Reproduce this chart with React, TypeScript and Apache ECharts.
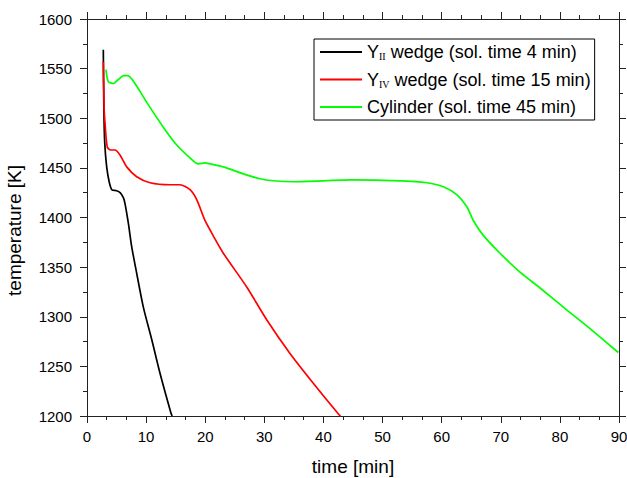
import React, { useEffect, useRef } from "react";
import * as echarts from "echarts";

const FONT = "Arial, 'Liberation Sans', sans-serif";

const seriesNames = [
  "YII wedge (sol. time 4 min)",
  "YIV wedge (sol. time 15 min)",
  "Cylinder (sol. time 45 min)",
];
const seriesColors = ["#000000", "#ff0000", "#00ff00"];

const blackTime = [2.76, 2.85, 3.0, 3.33, 3.75, 4.2, 5.0, 5.6, 6.15, 6.43, 7.0, 7.55, 8.4, 9.52, 10.95, 12.35, 14.2, 14.4];
const blackTemp = [1569, 1510, 1475, 1451, 1436, 1428, 1427, 1425, 1420, 1414, 1394, 1371, 1344, 1310, 1277, 1243, 1203, 1200];

const redTime = [2.76, 2.9, 3.05, 3.43, 4.0, 4.74, 5.58, 6.72, 8.41, 10.66, 14.04, 15.73, 17.43, 18.56, 19.96, 21.5, 23.06, 27.02, 30.4, 34.34, 38.28, 42.68, 42.9];
const redTemp = [1557, 1510, 1495, 1471, 1468, 1468, 1463, 1451, 1441, 1435, 1433, 1433, 1428, 1418, 1397, 1380, 1364, 1330, 1297, 1263, 1233, 1201, 1200];

const greenTime = [3.21, 3.6, 4.45, 5.3, 6.2, 6.9, 8.12, 10.0, 12.91, 15.18, 17.43, 18.83, 20.0, 20.81, 23.06, 26.44, 29.27, 31.52, 34.9, 39.98, 44.49, 52.95, 57.47, 60.28, 62.54, 64.24, 65.35, 67.04, 69.87, 73.25, 76.64, 81.15, 85.1, 89.88];
const greenTemp = [1549, 1537, 1535, 1539, 1543, 1543, 1535, 1517, 1491, 1473, 1460, 1454, 1455, 1454, 1451, 1444, 1439, 1437, 1436, 1437, 1438, 1437, 1435, 1431, 1423, 1411, 1397, 1382, 1364, 1345, 1329, 1307, 1288, 1264];

const xTicks = { min: 0, max: 90, interval: 10 };
const yTicks = { min: 1200, max: 1600, interval: 50 };

const legendLabels: Record<string, string> = {
  [seriesNames[0]]: "{n|Y}{s|II}{n| wedge (sol. time 4 min)}",
  [seriesNames[1]]: "{n|Y}{s|IV}{n| wedge (sol. time 15 min)}",
  [seriesNames[2]]: "{n|Cylinder (sol. time 45 min)}",
};

const pairs = (xs: number[], ys: number[]) => xs.map((x, i) => [x, ys[i]]);

export default function App() {
  const ref = useRef<HTMLDivElement>(null);
  useEffect(() => {
    if (!ref.current) return;
    const chart = echarts.init(ref.current, null, { renderer: "svg" });
    const axisColor = "#222";
    const baseAxis = {
      type: "value",
      axisLine: { show: true, onZero: false, lineStyle: { color: axisColor, width: 1 } },
      axisTick: { show: true, inside: false, length: 7, lineStyle: { color: axisColor, width: 1 } },
      minorTick: { show: true, length: 4, lineStyle: { color: axisColor, width: 1 } },
      splitLine: { show: false },
      minorSplitLine: { show: false },
    };
    const xBase = { ...baseAxis, ...xTicks, minorTick: { ...baseAxis.minorTick, splitNumber: 3 } };
    const yBase = { ...baseAxis, ...yTicks, minorTick: { ...baseAxis.minorTick, splitNumber: 2 } };
    const data = [pairs(blackTime, blackTemp), pairs(redTime, redTemp), pairs(greenTime, greenTemp)];
    const plain = (v: number) => String(v);
    chart.setOption({
      animation: false,
      backgroundColor: "#ffffff",
      grid: { left: 87, right: 8, top: 19, bottom: 62, containLabel: false, outerBoundsMode: "none" },
      xAxis: [
        {
          ...xBase,
          position: "bottom",
          name: "time [min]",
          nameLocation: "middle",
          nameGap: 41,
          nameTextStyle: { fontSize: 19, color: "#000", fontFamily: FONT },
          axisLabel: { fontSize: 15, color: "#000", margin: 13, fontFamily: FONT, formatter: plain },
        },
        { ...xBase, position: "top", axisLabel: { show: false } },
      ],
      yAxis: [
        {
          ...yBase,
          position: "left",
          name: "temperature [K]",
          nameLocation: "middle",
          nameGap: 63,
          nameTextStyle: { fontSize: 19, color: "#000", fontFamily: FONT, padding: [0, 26, 0, 0] },
          axisLabel: { fontSize: 15, color: "#000", margin: 15, fontFamily: FONT, formatter: plain },
        },
        { ...yBase, position: "right", axisLabel: { show: false } },
      ],
      legend: {
        show: true,
        orient: "vertical",
        align: "left",
        left: 314,
        top: 39,
        itemWidth: 42,
        itemHeight: 2,
        itemGap: 9,
        icon: "rect",
        selectedMode: false,
        borderColor: "#000",
        borderWidth: 1,
        padding: [4, 4, 4, 6],
        backgroundColor: "#fff",
        data: seriesNames,
        formatter: (name: string) => legendLabels[name] || name,
        textStyle: {
          color: "#000",
          fontFamily: FONT,
          fontSize: 18,
          rich: {
            n: { fontSize: 18, fontFamily: FONT, color: "#000" },
            s: { fontSize: 10, verticalAlign: "bottom", padding: [9, 0, 0, 0], fontFamily: "'Liberation Serif', 'Times New Roman', serif", color: "#000" },
          },
        },
      },
      series: seriesNames.map((name, i) => ({
        name,
        type: "line",
        xAxisIndex: 0,
        yAxisIndex: 0,
        data: data[i],
        showSymbol: false,
        symbol: "none",
        smooth: 0.25,
        lineStyle: { color: seriesColors[i], width: 1.7 },
        itemStyle: { color: seriesColors[i] },
        clip: true,
      })),
    });
    return () => chart.dispose();
  }, []);
  return <div ref={ref} style={{ position: "fixed", left: 0, top: 0, width: 627, height: 478 }} />;
}
